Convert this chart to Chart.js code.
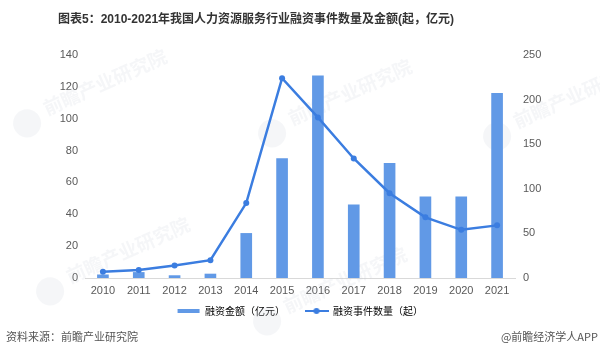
<!DOCTYPE html>
<html>
<head>
<meta charset="utf-8">
<script src="https://cdn.jsdelivr.net/npm/chart.js@4"></script>
<style>
  html, body { margin: 0; padding: 0; background: #fff; }
  #wrap { position: relative; width: 600px; height: 358px; overflow: hidden; }
  #c { position: absolute; left: 0; top: 0; }
  .title { position: absolute; left: 58px; top: 9px; font: bold 12px "Liberation Sans", "Noto Sans CJK SC", sans-serif; color: #333; white-space: nowrap; }
  .foot { position: absolute; top: 328px; font: 11px "Noto Sans CJK SC", sans-serif; color: #555; white-space: nowrap; }
</style>
</head>
<body>
<div id="wrap">
  <canvas id="c" width="600" height="358"></canvas>
  <div class="title">图表5：2010-2021年我国人力资源服务行业融资事件数量及金额(起，亿元)</div>
  <div class="foot" style="left:6px;">资料来源：前瞻产业研究院</div>
  <div class="foot" style="right:2px;">@前瞻经济学人APP</div>
</div>
<script>
const categories = ["2010","2011","2012","2013","2014","2015","2016","2017","2018","2019","2020","2021"];
const amountValues = [2, 3.5, 1.5, 2.5, 28, 75, 127, 46, 72, 51, 51, 116];
const eventValues = [7, 9, 14, 20, 84, 224, 180, 134, 95, 68, 54, 59];
const leftTicks = [0, 20, 40, 60, 80, 100, 120, 140];
const rightTicks = [0, 50, 100, 150, 200, 250];
const seriesNames = ["融资金额（亿元）", "融资事件数量（起）"];
const watermarkText = "前瞻产业研究院";

const barColor = "#6199e6";
const lineColor = "#3b7de0";

function makeIcon(kind) {
  const cv = document.createElement("canvas");
  cv.width = 24; cv.height = 10;
  const g = cv.getContext("2d");
  if (kind === "bar") {
    g.fillStyle = barColor;
    g.fillRect(1, 3, 22, 4);
  } else {
    g.strokeStyle = lineColor; g.lineWidth = 2;
    g.beginPath(); g.moveTo(0, 5); g.lineTo(24, 5); g.stroke();
    g.fillStyle = lineColor;
    g.beginPath(); g.arc(12, 5, 3, 0, Math.PI * 2); g.fill();
  }
  return cv;
}
const icons = [makeIcon("bar"), makeIcon("line")];

const watermarkPlugin = {
  id: "watermark",
  beforeDatasetsDraw(chart) {
    const ctx = chart.ctx;
    const spots = [[105, 82], [128, 250], [350, 92], [575, 95], [345, 280]];
    ctx.save();
    spots.forEach(function(p) {
      ctx.save();
      ctx.translate(p[0], p[1]);
      ctx.rotate(-0.42);
      ctx.fillStyle = "rgba(190,198,210,0.16)";
      ctx.font = "bold 19px 'Noto Sans CJK SC', sans-serif";
      ctx.textAlign = "center";
      ctx.textBaseline = "middle";
      ctx.fillText(watermarkText, 0, 0);
      ctx.beginPath();
      ctx.arc(-88, 6, 14, 0, Math.PI * 2);
      ctx.fill();
      ctx.restore();
    });
    ctx.restore();
  }
};

const tickFont = { family: "'Liberation Sans', Arial, sans-serif", size: 11 };

new Chart(document.getElementById("c"), {
  data: {
    labels: categories,
    datasets: [
      {
        type: "line",
        label: seriesNames[1],
        data: eventValues,
        yAxisID: "y1",
        borderColor: lineColor,
        backgroundColor: lineColor,
        borderWidth: 2.5,
        pointRadius: 3,
        pointBackgroundColor: lineColor,
        pointBorderWidth: 0,
        tension: 0,
        order: 0
      },
      {
        type: "bar",
        label: seriesNames[0],
        data: amountValues,
        yAxisID: "y",
        backgroundColor: barColor,
        barThickness: 11,
        order: 1
      }
    ]
  },
  plugins: [watermarkPlugin],
  options: {
    responsive: false,
    animation: false,
    events: [],
    layout: { padding: { top: 55, right: 0, bottom: 32, left: 0 } },
    plugins: {
      title: { display: false },
      tooltip: { enabled: false },
      legend: {
        position: "bottom",
        labels: {
          usePointStyle: true,
          pointStyleWidth: 23,
          padding: 10,
          color: "#595959",
          font: { family: "'Noto Sans CJK SC', sans-serif", size: 10 },
          generateLabels: function(chart) {
            return [0, 1].map(function(i) {
              return {
                text: seriesNames[i] + (i === 0 ? "\u2002\u2002" : ""),
                pointStyle: icons[i],
                fillStyle: i === 0 ? barColor : lineColor,
                strokeStyle: i === 0 ? barColor : lineColor,
                lineWidth: 0,
                hidden: false,
                datasetIndex: i === 0 ? 1 : 0
              };
            });
          }
        }
      }
    },
    scales: {
      x: {
        grid: { display: false, drawTicks: false },
        border: { display: true, color: "#d9d9d9", width: 1 },
        ticks: { color: "#595959", font: tickFont, padding: 6, maxRotation: 0 },
        afterFit: function(s) { s.height = 18; }
      },
      y: {
        position: "left",
        min: 0, max: 140,
        afterBuildTicks: function(s) { s.ticks = leftTicks.map(v => ({ value: v })); },
        grid: { display: false, drawTicks: false },
        border: { display: false },
        ticks: { color: "#595959", font: tickFont, padding: 7 },
        afterFit: function(s) { s.width = 85; }
      },
      y1: {
        position: "right",
        min: 0, max: 250,
        afterBuildTicks: function(s) { s.ticks = rightTicks.map(v => ({ value: v })); },
        grid: { display: false, drawTicks: false },
        border: { display: false },
        ticks: { color: "#595959", font: tickFont, padding: 8 },
        afterFit: function(s) { s.width = 85; }
      }
    }
  }
});
</script>
</body>
</html>
